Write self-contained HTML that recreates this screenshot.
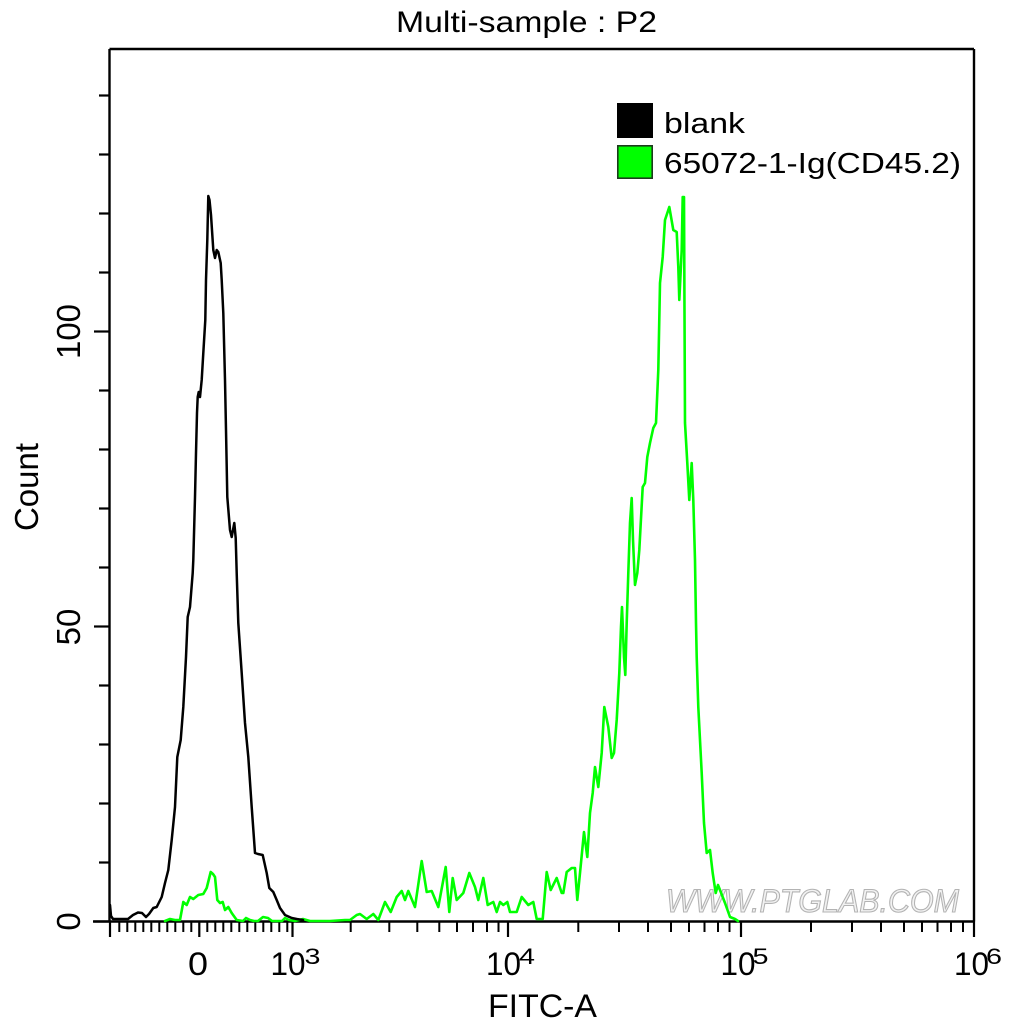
<!DOCTYPE html>
<html>
<head>
<meta charset="utf-8">
<style>
  html, body { margin: 0; padding: 0; background: #ffffff; }
  svg { display: block; }
  text { font-family: "Liberation Sans", Arial, sans-serif; fill: #000; }
</style>
</head>
<body>
<svg width="1016" height="1024" viewBox="0 0 1016 1024" xmlns="http://www.w3.org/2000/svg">
  <rect x="0" y="0" width="1016" height="1024" fill="#ffffff"/>

  <text x="396" y="32" font-size="30" textLength="261" lengthAdjust="spacingAndGlyphs">Multi-sample : P2</text>

  <text x="666" y="912" font-size="32" textLength="293" lengthAdjust="spacingAndGlyphs" font-style="italic" style="fill:#f2f2f2;stroke:#b3b3b3;stroke-width:1.1">WWW.PTGLAB.COM</text>

  <g stroke="#000" stroke-width="2.4" fill="none">
    <line x1="109.5" y1="49" x2="974" y2="49"/>
    <line x1="974" y1="49" x2="974" y2="921.5"/>
    <line x1="109.5" y1="49" x2="109.5" y2="921.5"/>
    <line x1="93" y1="921.5" x2="975" y2="921.5"/>
  </g>

  <g stroke="#000" stroke-width="2.2">
    <line x1="94" y1="921.5" x2="109.5" y2="921.5"/>
    <line x1="99" y1="862.5" x2="109.5" y2="862.5"/>
    <line x1="99" y1="803.5" x2="109.5" y2="803.5"/>
    <line x1="99" y1="744.5" x2="109.5" y2="744.5"/>
    <line x1="99" y1="685.5" x2="109.5" y2="685.5"/>
    <line x1="94" y1="626.5" x2="109.5" y2="626.5"/>
    <line x1="99" y1="567.5" x2="109.5" y2="567.5"/>
    <line x1="99" y1="508.5" x2="109.5" y2="508.5"/>
    <line x1="99" y1="449.5" x2="109.5" y2="449.5"/>
    <line x1="99" y1="390.5" x2="109.5" y2="390.5"/>
    <line x1="94" y1="331.5" x2="109.5" y2="331.5"/>
    <line x1="99" y1="272.5" x2="109.5" y2="272.5"/>
    <line x1="99" y1="213.5" x2="109.5" y2="213.5"/>
    <line x1="99" y1="154.5" x2="109.5" y2="154.5"/>
    <line x1="99" y1="95.5" x2="109.5" y2="95.5"/>
  </g>

  <g stroke="#000" stroke-width="2.2">
    <line x1="110" y1="921.5" x2="110" y2="937"/>
    <line x1="199.3" y1="921.5" x2="199.3" y2="937"/>
    <line x1="292.5" y1="921.5" x2="292.5" y2="937"/>
    <line x1="508" y1="921.5" x2="508" y2="937"/>
    <line x1="741" y1="921.5" x2="741" y2="937"/>
    <line x1="974" y1="921.5" x2="974" y2="937"/>
  </g>
  <g stroke="#000" stroke-width="2">
    <line x1="119.3" y1="921.5" x2="119.3" y2="932"/>
    <line x1="127.3" y1="921.5" x2="127.3" y2="932"/>
    <line x1="135.3" y1="921.5" x2="135.3" y2="932"/>
    <line x1="143.3" y1="921.5" x2="143.3" y2="932"/>
    <line x1="151.3" y1="921.5" x2="151.3" y2="932"/>
    <line x1="159.3" y1="921.5" x2="159.3" y2="932"/>
    <line x1="167.3" y1="921.5" x2="167.3" y2="932"/>
    <line x1="175.3" y1="921.5" x2="175.3" y2="932"/>
    <line x1="183.3" y1="921.5" x2="183.3" y2="932"/>
    <line x1="191.3" y1="921.5" x2="191.3" y2="932"/>
    <line x1="207.3" y1="921.5" x2="207.3" y2="932"/>
    <line x1="215.3" y1="921.5" x2="215.3" y2="932"/>
    <line x1="223.3" y1="921.5" x2="223.3" y2="932"/>
    <line x1="231.3" y1="921.5" x2="231.3" y2="932"/>
    <line x1="239.3" y1="921.5" x2="239.3" y2="932"/>
    <line x1="247.3" y1="921.5" x2="247.3" y2="932"/>
    <line x1="255.3" y1="921.5" x2="255.3" y2="932"/>
    <line x1="263.3" y1="921.5" x2="263.3" y2="932"/>
    <line x1="271.3" y1="921.5" x2="271.3" y2="932"/>
    <line x1="279.3" y1="921.5" x2="279.3" y2="932"/>
    <line x1="287.3" y1="921.5" x2="287.3" y2="932"/>
    <line x1="350.7" y1="921.5" x2="350.7" y2="932"/>
    <line x1="389.3" y1="921.5" x2="389.3" y2="932"/>
    <line x1="417.3" y1="921.5" x2="417.3" y2="932"/>
    <line x1="439.3" y1="921.5" x2="439.3" y2="932"/>
    <line x1="457" y1="921.5" x2="457" y2="932"/>
    <line x1="473" y1="921.5" x2="473" y2="932"/>
    <line x1="487" y1="921.5" x2="487" y2="932"/>
    <line x1="498.5" y1="921.5" x2="498.5" y2="932"/>
    <line x1="578.3" y1="921.5" x2="578.3" y2="932"/>
    <line x1="619" y1="921.5" x2="619" y2="932"/>
    <line x1="648" y1="921.5" x2="648" y2="932"/>
    <line x1="671" y1="921.5" x2="671" y2="932"/>
    <line x1="689" y1="921.5" x2="689" y2="932"/>
    <line x1="704.5" y1="921.5" x2="704.5" y2="932"/>
    <line x1="718" y1="921.5" x2="718" y2="932"/>
    <line x1="729.5" y1="921.5" x2="729.5" y2="932"/>
    <line x1="811" y1="921.5" x2="811" y2="932"/>
    <line x1="852" y1="921.5" x2="852" y2="932"/>
    <line x1="881" y1="921.5" x2="881" y2="932"/>
    <line x1="904" y1="921.5" x2="904" y2="932"/>
    <line x1="922" y1="921.5" x2="922" y2="932"/>
    <line x1="937.5" y1="921.5" x2="937.5" y2="932"/>
    <line x1="951" y1="921.5" x2="951" y2="932"/>
    <line x1="963" y1="921.5" x2="963" y2="932"/>
  </g>

  <path fill="none" stroke="#00ff00" stroke-width="2.6" stroke-linejoin="round" stroke-linecap="round"
    d="M165,921 L170,919 L175,920 L180,920 L183.3,902 L186.7,905 L190,897 L193.3,899 L198.3,895 L203.3,894 L206.7,888 L210.7,872 L213,874 L215,877 L217.3,900 L220,903 L222.7,902 L225,910 L228.3,907 L231.7,913 L236.7,920 L243,921 L246,918 L250,920 L254,921 L258,921 L263,917 L268,918 L272,921 L282,921 L285,918 L289,920 L295,921 L303,919 L310,921 L330,921 L345,920 L350,920 L356.7,915 L360,914 L366.7,919 L373.3,914 L378.3,920 L385,902 L390.7,912 L396.7,897 L401.7,891 L405,900 L408.3,891 L415,907 L421.7,861 L426.7,892 L431.7,891 L438.3,907 L445.7,867 L449.3,912 L452.7,878 L456.7,900 L463.3,893 L469.3,873 L475,887 L478.3,900 L483.3,878 L487.7,905 L493.3,902 L496.7,912 L500,902 L503.3,905 L507.3,902 L510,912 L516.7,912 L521.7,897 L528.3,905 L533.3,902 L536.7,919 L542.7,919 L546.7,872 L550.7,890 L556.7,878 L561.7,893 L563.3,893 L566.7,872 L571.7,868 L575,868 L577.3,900 L580,873 L584,832 L587.3,857 L590,813 L592.7,793 L595,767 L598.3,787 L601.7,753 L604.3,707 L608.3,727 L611.7,758 L614,753 L616.7,720 L619.3,673 L621,627 L622,607 L624,657 L625.3,675 L626.7,623 L628.3,573 L630,523 L631.7,498 L633,540 L635,585 L637.3,573 L639.3,550 L642.7,487 L645,483 L647.3,457 L650,443 L653.3,428 L656,423 L658.3,370 L660,283 L662.7,257 L665,220 L669.3,207 L673.3,230 L676.7,232 L678.3,267 L679.3,300 L681.7,250 L682.7,197 L684,197 L684.5,313 L685,423 L687.3,463 L689.3,500 L691.7,463 L693.3,500 L695,560 L696,623 L696.7,657 L698.3,707 L701.7,773 L704,823 L706.7,853 L710,850 L712.7,873 L715.7,893 L718,885 L720,890 L725,903 L730,917 L735,919 L738,921"/>

  <path fill="none" stroke="#000" stroke-width="2.5" stroke-linejoin="round" stroke-linecap="round"
    d="M110,905 L111,916 L113,919 L120,919 L128,919 L133,915 L138,912.5 L142,913 L146,917 L149,914 L153.3,908 L156.7,907 L161.7,897 L165,883 L168.3,870 L171.7,840 L175,807 L177.3,757 L180.7,740 L183.3,707 L186,657 L187.7,617 L190,607 L192.7,573 L193.3,560 L195,497 L196,453 L197,413 L197.7,397 L198.7,392 L200,397 L201.7,380 L203.3,353 L205.3,320 L206,280 L207.3,240 L208.3,196 L209.5,200 L211,215 L213.3,250 L215,258 L216.7,250 L218.3,252 L220.7,263 L221.7,280 L223.3,313 L225,380 L226,430 L227.3,497 L230,530 L231.7,537 L234.3,523 L235.7,538 L236.7,573 L238.3,623 L241.7,673 L245,723 L248.3,757 L251.7,807 L255,853 L258,854 L262.7,855 L266.7,873 L269.3,888 L273.3,892 L276.7,900 L280,908 L285,915 L291.7,918 L296.7,919 L303,920"/>

  <rect x="617" y="103" width="36" height="35" fill="#000"/>
  <rect x="617.8" y="145.8" width="34.4" height="32.4" fill="#00ff00" stroke="#1d3b1d" stroke-width="1.6"/>
  <text x="664" y="133" font-size="29" textLength="81" lengthAdjust="spacingAndGlyphs">blank</text>
  <text x="664" y="173" font-size="29" textLength="297" lengthAdjust="spacingAndGlyphs">65072-1-Ig(CD45.2)</text>

  <text transform="translate(80,921.5) rotate(-90)" font-size="33" text-anchor="middle">0</text>
  <text transform="translate(80,627) rotate(-90)" font-size="33" text-anchor="middle">50</text>
  <text transform="translate(80,331.5) rotate(-90)" font-size="33" text-anchor="middle">100</text>
  <text transform="translate(38,487) rotate(-90)" font-size="33" text-anchor="middle">Count</text>

  <text x="188" y="975" font-size="32" textLength="20" lengthAdjust="spacingAndGlyphs">0</text>
  <text x="270.5" y="975" font-size="32" textLength="35" lengthAdjust="spacingAndGlyphs">10</text>
  <text x="304.5" y="964" font-size="22" textLength="16" lengthAdjust="spacingAndGlyphs">3</text>
  <text x="486" y="975" font-size="32" textLength="35" lengthAdjust="spacingAndGlyphs">10</text>
  <text x="519" y="964" font-size="22" textLength="16" lengthAdjust="spacingAndGlyphs">4</text>
  <text x="720.5" y="975" font-size="32" textLength="35" lengthAdjust="spacingAndGlyphs">10</text>
  <text x="752.5" y="964" font-size="22" textLength="16" lengthAdjust="spacingAndGlyphs">5</text>
  <text x="954" y="975" font-size="32" textLength="35" lengthAdjust="spacingAndGlyphs">10</text>
  <text x="986" y="964" font-size="22" textLength="16" lengthAdjust="spacingAndGlyphs">6</text>

  <text x="488" y="1017" font-size="32" textLength="109" lengthAdjust="spacingAndGlyphs">FITC-A</text>
</svg>
</body>
</html>
